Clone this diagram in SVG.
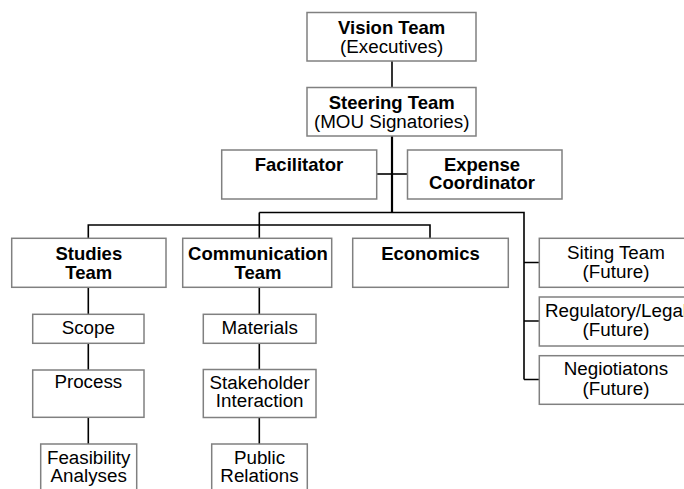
<svg xmlns="http://www.w3.org/2000/svg" width="684" height="489" viewBox="0 0 684 489">
<style>
.box{fill:#ffffff;stroke:#808080;stroke-width:1.5}
.c{fill:none;stroke:#000000;stroke-width:1.6}
.trunk{stroke-width:2.2}
text{font-family:"Liberation Sans",Arial,sans-serif;fill:#000000;text-anchor:middle}
.b{font-weight:bold;font-size:18.5px}
.r{font-size:18.8px}
</style>
<rect width="684" height="489" fill="#ffffff"/>
<g id="connectors">
<path class="c" d="M392 61V87.5"/>
<path class="c trunk" d="M392 136V212.5"/>
<path class="c" d="M376.7 174H407.5"/>
<path class="c" d="M259.3 212.5H524V379.5"/>
<path class="c" d="M88.3 238.3V225H430V238.3"/>
<path class="c" d="M259.3 212.5V238.3"/>
<path class="c" d="M524 262.5H539.3M524 321H539.3M524 379.5H539.3"/>
<path class="c" d="M88.3 287.3V314.3M88.3 343.3V370M88.3 417.3V444"/>
<path class="c" d="M259.3 287.3V314.3M259.3 343.3V369.5M259.3 417.5V444"/>
</g>
<g id="vision"><rect class="box" x="307" y="12.5" width="169" height="48.5"/><text class="b" x="391.7" y="34">Vision Team</text><text class="r" x="391.7" y="53">(Executives)</text></g>
<g id="steering"><rect class="box" x="307" y="87.5" width="169" height="48.5"/><text class="b" x="391.7" y="109">Steering Team</text><text class="r" x="391.7" y="128">(MOU Signatories)</text></g>
<g id="facilitator"><rect class="box" x="221.7" y="150" width="155" height="49"/><text class="b" x="299" y="170.5">Facilitator</text></g>
<g id="expense"><rect class="box" x="407.5" y="150" width="154.5" height="49"/><text class="b" x="482" y="170.5">Expense</text><text class="b" x="482" y="189">Coordinator</text></g>
<g id="studies"><rect class="box" x="11.7" y="238.3" width="154.3" height="49"/><text class="b" x="88.8" y="260">Studies</text><text class="b" x="88.8" y="278.5">Team</text></g>
<g id="communication"><rect class="box" x="182.7" y="238.3" width="149" height="49"/><text class="b" x="258" y="260">Communication</text><text class="b" x="258" y="278.5">Team</text></g>
<g id="economics"><rect class="box" x="352.7" y="238.3" width="155.6" height="49"/><text class="b" x="430.5" y="260">Economics</text></g>
<g id="siting"><rect class="box" x="539.3" y="238.3" width="153" height="49"/><text class="r" x="616" y="258.5">Siting Team</text><text class="r" x="616" y="278">(Future)</text></g>
<g id="regulatory"><rect class="box" x="539.3" y="297" width="153" height="49"/><text class="r" x="616" y="316.5">Regulatory/Legal</text><text class="r" x="616" y="336">(Future)</text></g>
<g id="negotiations"><rect class="box" x="539.3" y="355.7" width="153" height="48.6"/><text class="r" x="616" y="374.5">Negiotiatons</text><text class="r" x="616" y="395">(Future)</text></g>
<g id="scope"><rect class="box" x="32.7" y="314.3" width="111.3" height="29"/><text class="r" x="88.3" y="334">Scope</text></g>
<g id="process"><rect class="box" x="32.7" y="370" width="111.3" height="47.3"/><text class="r" x="88.3" y="388">Process</text></g>
<g id="feasibility"><rect class="box" x="40.7" y="444" width="96" height="60"/><text class="r" x="88.7" y="464">Feasibility</text><text class="r" x="88.7" y="482">Analyses</text></g>
<g id="materials"><rect class="box" x="203.3" y="314.3" width="112.7" height="29"/><text class="r" x="259.7" y="334">Materials</text></g>
<g id="stakeholder"><rect class="box" x="203.3" y="369.5" width="112.7" height="48"/><text class="r" x="259.7" y="388.5">Stakeholder</text><text class="r" x="259.7" y="407">Interaction</text></g>
<g id="publicrelations"><rect class="box" x="211.7" y="444" width="95.6" height="60"/><text class="r" x="259.5" y="464">Public</text><text class="r" x="259.5" y="482">Relations</text></g>
</svg>
